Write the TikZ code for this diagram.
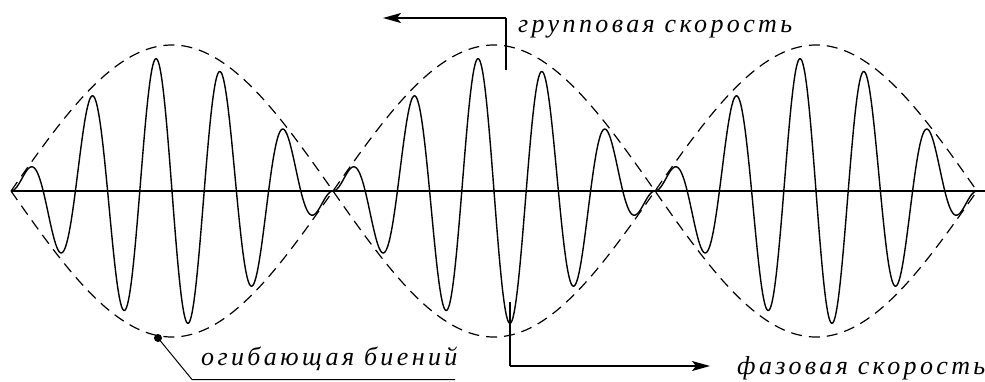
\documentclass[tikz,border=0pt]{standalone}
\usepackage{fontspec}
\newfontfamily\lblfont[LetterSpace=13]{Liberation Serif}
\usetikzlibrary{arrows.meta}
\begin{document}
\begin{tikzpicture}[x=1pt,y=-1pt,
  env/.style={line width=1.2pt, dash pattern=on 11pt off 7pt},
  wave/.style={line width=1.4pt, line join=round},
  axisline/.style={line width=1.4pt},
  thickbar/.style={line width=2.6pt},
  arrowline/.style={line width=1.4pt, -{Stealth[length=18pt,width=10pt,inset=4pt]}},
  leader/.style={line width=1pt},
  lbl/.style={font=\fontsize{26}{30}\selectfont\lblfont\itshape, inner sep=0pt, anchor=base west}
]
\fill[white] (0,0) rectangle (985,381);
\useasboundingbox (0,0) rectangle (985,381);
% axis
\coordinate (axL) at (11,191);
\coordinate (axR) at (985,191);
\draw[axisline] (axL) -- (axR);
% envelope
\draw[env] plot[domain=0:966, samples=400] ({\x+11},{191-146*abs(sin(\x*0.5590062))});
\draw[env] plot[domain=0:966, samples=400] ({\x+11},{191+146*abs(sin(\x*0.5590062))});
% carrier
\draw[wave] plot[domain=0:966, samples=1200] ({\x+11},{191-134*abs(sin(\x*0.5590062))*sin(\x*5.590062)});
% group velocity
\coordinate (gv0) at (506,70);
\coordinate (gv1) at (506,18);
\coordinate (gv2) at (383,18);
\draw[thickbar] (gv0) -- (gv1);
\draw[arrowline] (gv1) -- (gv2);
\node[lbl] (gvl) at (518,32) {групповая скорость};
% phase velocity
\coordinate (pv0) at (510,302);
\coordinate (pv1) at (510,366);
\coordinate (pv2) at (710,366);
\draw[thickbar] (pv0) -- (pv1);
\draw[arrowline] (pv1) -- (pv2);
\node[lbl] (pvl) at (737,374) {фазовая скорость};
% envelope label
\node[circle, fill, inner sep=0pt, minimum size=8pt] (dot) at (158,338) {};
\coordinate (e1) at (192,379.5);
\coordinate (e2) at (455,379.5);
\draw[leader] (dot.center) -- (e1) -- (e2);
\node[lbl] (envl) at (201,365) {огибающая биений};
\end{tikzpicture}
\end{document}
